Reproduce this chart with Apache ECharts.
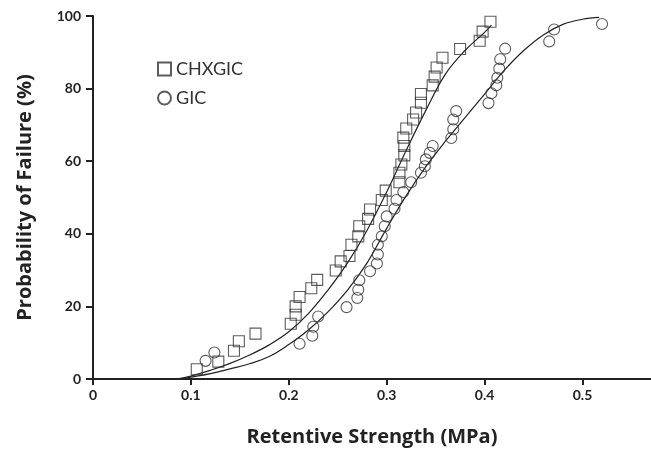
<!DOCTYPE html>
<html>
<head>
<meta charset="utf-8">
<script src="https://cdn.jsdelivr.net/npm/echarts@6/dist/echarts.min.js"></script>
<style>
html, body { margin: 0; padding: 0; background: #fff; }
#chart { width: 651px; height: 458px; }
</style>
</head>
<body>
<div id="chart"></div>
<script>
// tick labels
var xTicks = [0, 0.1, 0.2, 0.3, 0.4, 0.5];
var yTicks = [0, 20, 40, 60, 80, 100];

// CHXGIC (squares)
var chxgicX = [0.106, 0.128, 0.144, 0.149, 0.166, 0.202, 0.207, 0.207, 0.211, 0.223,
               0.229, 0.248, 0.253, 0.262, 0.264, 0.271, 0.272, 0.281, 0.283, 0.295,
               0.299, 0.313, 0.313, 0.315, 0.318, 0.318, 0.317, 0.320, 0.327, 0.330,
               0.335, 0.335, 0.347, 0.349, 0.351, 0.357, 0.375, 0.395, 0.398, 0.406];
var chxgicP = [2.7, 4.8, 7.8, 10.4, 12.5, 15.2, 17.7, 20.0, 22.6, 25.0,
               27.3, 29.9, 32.4, 33.9, 37.0, 39.3, 42.1, 44.1, 46.7, 49.3,
               51.9, 54.2, 56.8, 59.1, 61.6, 64.2, 66.5, 69.0, 71.5, 73.4,
               76.1, 78.5, 80.9, 83.3, 85.8, 88.5, 90.9, 93.2, 95.7, 98.4];

// GIC (circles)
var gicX = [0.115, 0.124, 0.211, 0.224, 0.225, 0.230, 0.259, 0.270, 0.271, 0.272,
            0.283, 0.290, 0.291, 0.291, 0.295, 0.298, 0.300, 0.308, 0.310, 0.317,
            0.325, 0.335, 0.339, 0.340, 0.344, 0.347, 0.366, 0.368, 0.368, 0.371,
            0.404, 0.407, 0.412, 0.413, 0.415, 0.416, 0.421, 0.466, 0.471, 0.520];
var gicP = [5.0, 7.3, 9.7, 11.9, 14.4, 17.2, 19.8, 22.3, 24.6, 27.2,
            29.7, 31.8, 34.3, 37.0, 39.3, 42.1, 44.8, 46.9, 49.3, 51.5,
            54.2, 56.8, 58.6, 60.5, 62.3, 64.2, 66.4, 68.8, 71.5, 73.8,
            76.0, 78.7, 80.9, 83.0, 85.5, 88.1, 91.0, 93.0, 96.3, 97.8];

// fitted curves
var chxgicFitX = [0.085, 0.10, 0.12, 0.14, 0.16, 0.18, 0.20, 0.22, 0.24, 0.26,
                  0.28, 0.30, 0.32, 0.34, 0.36, 0.38, 0.40, 0.407];
var chxgicFitP = [0, 0.8, 2.4, 4.3, 6.6, 9.4, 13, 18, 24.5, 32,
                  41, 51.5, 63, 74, 84, 90.5, 95.5, 97.5];
var gicFitX = [0.09, 0.10, 0.12, 0.14, 0.16, 0.18, 0.20, 0.22, 0.24, 0.26,
               0.28, 0.30, 0.32, 0.34, 0.36, 0.38, 0.40, 0.42, 0.44, 0.46,
               0.48, 0.50, 0.517];
var gicFitP = [0, 0.5, 1.5, 2.8, 4.2, 6.2, 9.5, 13.5, 18.5, 24.5,
               32, 41.5, 50.5, 58.5, 65.5, 72, 78.5, 85, 90.5, 94.8,
               97.7, 99.1, 99.6];

function pairs(xs, ys) {
    return xs.map(function(x, i) { return [x, ys[i]]; });
}

var ink = '#222';
var nameStyle = { fontFamily: 'Open Sans', fontWeight: 'bold', fontSize: 20, color: ink };
var tickStyle = { fontFamily: 'Lato', fontWeight: 'bold', fontSize: 14, color: ink };

var option = {
    animation: false,
    backgroundColor: '#fff',
    grid: { left: 93, right: 0, top: 16, bottom: 79 },
    legend: {
        data: ['CHXGIC', 'GIC'],
        orient: 'vertical',
        left: 152,
        top: 55,
        itemWidth: 13,
        itemHeight: 13,
        itemGap: 11,
        textStyle: { fontFamily: 'Lato', fontSize: 18, color: '#333' }
    },
    xAxis: {
        type: 'value',
        min: 0,
        max: 0.57,
        interval: 0.1,
        splitLine: { show: false },
        axisLine: { onZero: false, lineStyle: { color: ink, width: 2 } },
        axisTick: { customValues: xTicks, length: 6, lineStyle: { color: ink, width: 2 } },
        axisLabel: Object.assign({ customValues: xTicks, margin: 9 }, tickStyle),
        name: 'Retentive Strength (MPa)',
        nameLocation: 'middle',
        nameGap: 48,
        nameTextStyle: nameStyle
    },
    yAxis: {
        type: 'value',
        min: 0,
        max: 100,
        interval: 20,
        splitLine: { show: false },
        axisLine: { lineStyle: { color: ink, width: 2 } },
        axisTick: { customValues: yTicks, length: 7, lineStyle: { color: ink, width: 2 } },
        axisLabel: Object.assign({ customValues: yTicks, margin: 12 }, tickStyle),
        name: 'Probability of Failure (%)',
        nameLocation: 'middle',
        nameGap: 58,
        nameTextStyle: nameStyle
    },
    series: [
        {
            name: 'CHXGIC fit',
            type: 'line',
            data: pairs(chxgicFitX, chxgicFitP),
            smooth: 0.4,
            showSymbol: false,
            lineStyle: { color: ink, width: 1.2 },
            z: 1
        },
        {
            name: 'GIC fit',
            type: 'line',
            data: pairs(gicFitX, gicFitP),
            smooth: 0.4,
            showSymbol: false,
            lineStyle: { color: ink, width: 1.2 },
            z: 1
        },
        {
            name: 'CHXGIC',
            type: 'scatter',
            symbol: 'rect',
            symbolSize: 11,
            data: pairs(chxgicX, chxgicP),
            itemStyle: { color: 'rgba(255,255,255,0)', borderColor: '#333', borderWidth: 1.1 },
            z: 3
        },
        {
            name: 'GIC',
            type: 'scatter',
            symbol: 'circle',
            symbolSize: 11,
            data: pairs(gicX, gicP),
            itemStyle: { color: 'rgba(255,255,255,0)', borderColor: '#333', borderWidth: 1.1 },
            z: 3
        }
    ]
};

echarts.init(document.getElementById('chart')).setOption(option);
</script>
</body>
</html>
